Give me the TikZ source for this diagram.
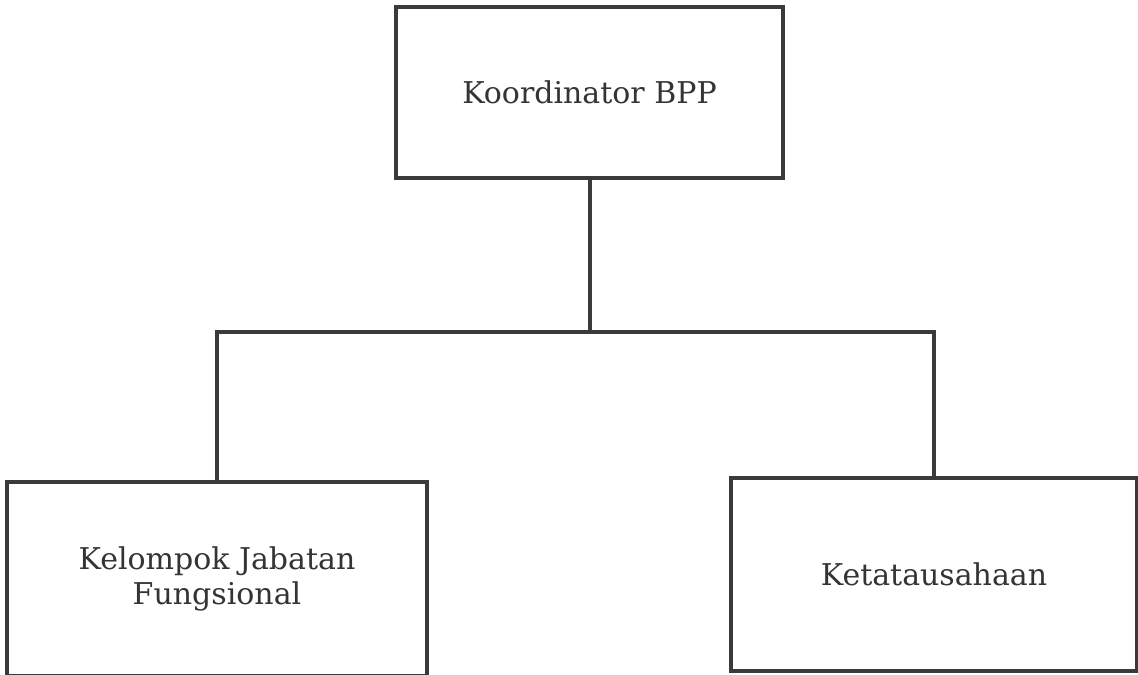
\documentclass[tikz,border=0pt]{standalone}
\usepackage{fontspec}
\setmainfont{DejaVu Serif}
\definecolor{ink}{HTML}{3A3A3A}
\tikzset{
  unit/.style={draw=ink, line width=2pt, fill=white, inner sep=0pt, outer sep=0pt,
    align=center, text=ink!90!black, font=\fontsize{15}{17.5}\selectfont},
}
\begin{document}
\begin{tikzpicture}[x=0.5pt, y=-0.5pt]
      \useasboundingbox (0,0) rectangle (1138,674);
      \node[unit, minimum width=193.5pt, minimum height=85.5pt] (koor) at (589.5,92.5) {Koordinator BPP};
      \node[unit, minimum width=210pt, minimum height=97pt] (kjf) at (217,579) {Kelompok Jabatan\\Fungsional};
      \node[unit, minimum width=203pt, minimum height=96.5pt] (tu) at (934,574.5) {Ketatausahaan};
      \coordinate (bus) at (589.5,332);
      \begin{scope}[draw=ink, line width=2pt]
        \draw (koor) to (bus);
        \draw (kjf.north) |- (bus) -| (tu.north);
      \end{scope}
    \end{tikzpicture}
\end{document}
